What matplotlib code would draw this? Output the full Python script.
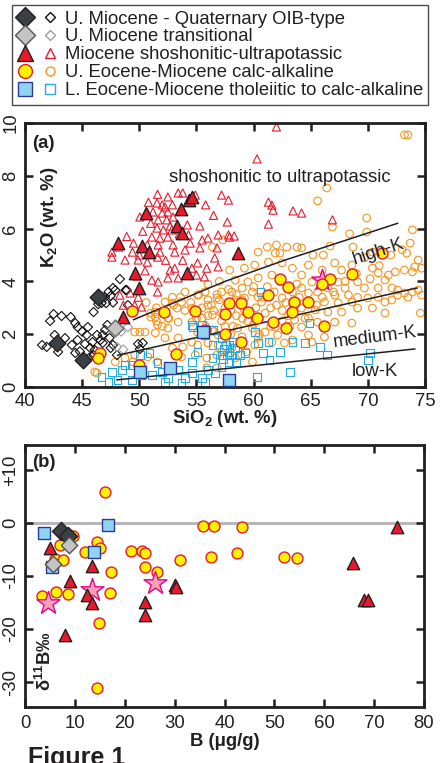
import matplotlib
matplotlib.use('Agg')
import matplotlib.pyplot as plt
from matplotlib.lines import Line2D
from matplotlib.legend_handler import HandlerTuple

plt.rcParams['font.family'] = ['Liberation Sans', 'DejaVu Sans']
plt.rcParams['mathtext.fontset'] = 'custom'
plt.rcParams['mathtext.rm'] = 'Liberation Sans'
plt.rcParams['mathtext.bf'] = 'Liberation Sans:bold'
plt.rcParams['mathtext.it'] = 'Liberation Sans:italic'
plt.rcParams['mathtext.default'] = 'bf'

INK = '#231f20'
FS = 13.3

# ---------------- Panel (a) data: SiO2 vs K2O ----------------
# open symbols (literature data)
oib_open_si = [48.3, 47.3, 47.5, 47.7, 47.0, 48.8, 47.1, 46.0, 46.4, 42.5, 43.2, 44.0, 42.2, 44.4, 44.6,
               45.5, 47.2, 45.4, 46.3, 46.8, 42.6, 41.5, 41.9, 42.9, 44.1, 44.4, 44.6, 45.25, 45.7, 45.9,
               46.1, 46.6, 46.8, 47.0, 47.4, 47.7, 48.05, 49.9, 50.3, 50.05, 47.5, 47.9, 47.7, 46.7, 48.9,
               49.0, 43.5, 45.0, 46.0, 45.6, 44.8]
oib_open_k = [4.09, 3.6, 3.45, 3.75, 3.4, 3.67, 3.18, 2.84, 3.14, 2.76, 2.69, 2.65, 2.5, 2.42, 2.27,
              2.27, 2.35, 1.97, 1.97, 1.97, 1.97, 1.59, 1.52, 1.33, 1.59, 1.29, 1.78, 1.63, 1.48, 1.7,
              1.4, 1.78, 1.67, 2.16, 1.86, 1.59, 1.21, 1.63, 1.67, 1.44, 1.48, 3.67, 3.2, 3.18, 3.67,
              3.1, 1.85, 2.1, 1.2, 1.1, 1.35]

trans_open_si = [48.05, 49.0, 48.6, 48.4]
trans_open_k = [1.52, 2.27, 1.42, 2.1]

shos_open_si = [51.6, 52.5, 53.4, 53.8, 54.9, 51.55, 52.25, 52.9, 51.2, 52.0, 52.5, 50.05, 51.65, 52.4,
                52.95, 54.2, 55.3, 51.55, 52.1, 52.85, 51.1, 51.8, 52.5, 54.3, 49.5, 50.7, 51.65, 52.95,
                54.45, 55.5, 56.0, 47.6, 49.4, 51.8, 53.1, 54.0, 55.3, 56.9, 56.8, 57.2,
                62.0, 60.3, 57.8, 61.3, 61.6, 61.7, 63.45, 64.2, 57.7, 61.3, 66.9, 57.8, 57.9, 58.3,
                47.6, 48.75, 49.9, 50.7, 51.6, 52.7, 53.1, 54.6, 55.1, 55.9, 56.6, 51.1, 51.65, 52.5,
                53.4, 55.0, 55.7, 48.3, 49.2, 49.9, 51.6, 49.6, 50.2, 48.6, 56.9,
                52.0, 52.7, 51.0, 53.5, 50.3, 50.0, 52.3, 53.8, 50.5, 49.8, 56.5, 55.8, 50.8, 48.9, 48.2]
shos_open_k = [7.3, 7.2, 7.35, 7.35, 7.27, 6.97, 6.82, 6.9, 6.63, 6.59, 6.63, 6.44, 6.33, 6.33,
               6.44, 6.14, 6.1, 6.02, 5.95, 5.95, 5.68, 5.64, 5.68, 5.76, 5.45, 5.38, 5.38, 5.38,
               5.45, 5.57, 5.64, 5.11, 5.11, 5.11, 5.11, 5.19, 5.27, 5.76, 5.27, 7.27,
               9.85, 8.64, 7.08, 7.0, 6.89, 6.7, 6.67, 6.59, 6.25, 6.17, 6.33, 5.76, 5.68, 5.72,
               4.92, 4.81, 4.81, 4.73, 4.92, 4.43, 4.5, 4.5, 4.7, 4.5, 4.89, 4.05, 3.98, 4.13,
               4.13, 4.24, 4.17, 3.48, 3.56, 3.4, 3.6, 3.1, 3.03, 3.1, 4.55,
               6.9, 6.1, 6.2, 5.8, 5.9, 5.0, 4.8, 4.8, 4.4, 4.2, 6.5, 6.9, 7.0, 5.7, 5.3]

calc_open_si = [73.2, 73.5, 66.4, 65.6, 69.9, 66.9, 73.9, 68.4, 69.9, 61.2, 62.0, 62.9, 63.8, 66.7, 68.7,
                73.7, 73.4, 70.4, 65.2, 66.1, 61.9, 62.3, 64.2, 60.4, 56.4, 57.3,
                57.9, 59.2, 60.1, 61.3, 62.5, 63.4, 64.8, 66.0, 67.1, 67.7, 68.6, 69.7, 70.4, 70.9, 71.5,
                71.8, 72.4, 73.2, 73.9, 74.4, 74.1, 74.7, 58.4, 59.5, 60.4, 61.6, 64.2, 65.1, 67.4, 68.0,
                69.1, 69.7, 70.9, 72.1, 72.6, 73.2, 73.9, 74.4, 74.7, 73.5, 72.6, 58.1, 59.0, 59.9, 60.4,
                60.7, 59.2, 58.4, 62.5, 63.4, 64.2, 64.8, 65.6, 66.5, 67.1, 68.3, 69.1, 70.0, 70.9, 71.5,
                72.1, 68.6, 67.4, 66.2, 65.4, 64.2, 66.5, 67.7, 69.1, 70.4, 74.6, 71.5, 68.6, 67.1, 65.6,
                64.8, 63.6, 64.2, 64.8, 65.1, 66.2, 61.0, 61.9, 59.9, 60.4, 60.1, 61.6, 62.7, 63.4, 59.4,
                58.4, 59.9, 58.1, 62.1, 58.6,
                57.0, 57.5, 58.0, 58.5, 59.0, 59.5, 60.0, 60.5, 61.0, 61.5, 62.0, 62.5, 63.0, 56.5, 56.0,
                56.3, 57.2, 58.2, 59.2, 60.2, 60.8, 61.8, 62.8, 63.5, 64.0, 63.8, 62.3, 61.2, 60.0, 59.0,
                58.5, 57.8, 56.8, 56.0, 55.5, 55.0, 55.8, 56.5, 57.5, 58.0, 59.0, 60.5, 61.5, 62.5, 63.2,
                64.5, 65.5, 66.0, 67.0, 68.0, 69.0, 70.2, 71.0, 72.0, 73.0, 57.0, 56.0, 55.2, 54.5, 54.0,
                53.6, 53.0, 52.6, 52.0, 51.5, 51.0, 50.6,
                51.4, 52.25, 52.9, 53.7, 54.0, 55.1, 55.75, 56.0, 56.8, 57.2, 53.3, 54.6, 52.5, 53.4, 54.6,
                55.5, 56.4, 57.2, 55.1, 56.4, 56.9, 51.6, 52.5, 51.4, 49.6, 50.05, 50.5, 52.25, 53.4, 54.6,
                52.9, 53.8, 55.1, 56.0, 56.9, 48.75, 49.6, 50.75, 51.55, 53.7, 54.9, 55.9, 56.8, 57.2, 46.1,
                47.9, 49.45, 55.9, 56.8, 51.4, 52.9, 51.5, 51.0, 46.1, 46.3]
calc_open_k = [9.55, 9.55, 7.54, 7.05, 6.4, 6.06, 5.95, 5.8, 5.87, 5.3, 5.38, 5.3, 5.3, 5.34, 5.3,
               5.45, 5.07, 5.11, 5.0, 5.0, 5.07, 5.07, 5.27, 5.11, 5.3, 5.57,
               4.43, 4.5, 4.62, 4.73, 4.7, 4.5, 4.62, 4.43, 4.7, 4.43, 4.62, 4.89, 4.5, 4.32, 4.05,
               4.24, 4.36, 4.43, 4.36, 4.81, 4.55, 4.5, 4.05, 3.98, 4.13, 4.24, 4.24, 3.98, 3.98, 3.75,
               3.98, 3.75, 3.75, 3.75, 3.67, 3.56, 3.6, 3.67, 3.48, 3.4, 3.48, 3.6, 3.75, 3.6, 3.4,
               3.22, 3.37, 3.3, 3.37, 3.6, 3.75, 3.56, 3.6, 3.75, 3.48, 3.48, 3.4, 3.37, 3.4, 3.22,
               3.3, 3.22, 3.18, 3.22, 2.92, 2.99, 2.84, 2.84, 2.99, 2.99, 2.8, 2.8, 2.42, 2.46, 2.46,
               2.61, 2.54, 2.27, 1.97, 1.7, 1.89, 2.08, 2.27, 2.23, 1.89, 1.59, 1.7, 1.67, 1.78, 1.33,
               1.1, 0.95, 1.48, 1.97, 2.23,
               3.3, 3.0, 2.9, 2.7, 2.6, 2.5, 2.4, 2.6, 2.8, 3.0, 3.1, 2.9, 2.7, 2.9, 2.7,
               3.1, 2.5, 2.3, 2.9, 3.0, 3.4, 3.6, 3.2, 3.0, 3.4, 3.9, 4.0, 3.8, 3.8, 3.3,
               3.5, 3.7, 3.5, 3.3, 3.0, 2.6, 2.3, 2.1, 2.3, 2.0, 1.9, 2.0, 2.3, 2.5, 2.3,
               2.6, 3.1, 3.4, 3.6, 4.0, 4.3, 4.1, 4.6, 5.0, 5.2, 4.0, 3.9, 3.5, 3.2, 2.9,
               3.4, 3.1, 2.6, 2.3, 2.5, 2.8, 3.2,
               2.84, 3.22, 3.4, 3.22, 3.6, 3.48, 3.6, 3.1, 3.37, 3.6, 2.99, 2.99, 2.61, 2.46, 2.46,
               2.61, 2.73, 2.8, 2.08, 2.16, 1.97, 2.35, 2.23, 2.05, 2.08, 2.08, 2.08, 1.86, 1.86, 1.7,
               1.48, 1.52, 1.59, 1.67, 1.59, 1.1, 1.21, 1.14, 0.95, 1.14, 1.21, 1.1, 1.21, 1.33, 0.57,
               0.95, 0.95, 0.72, 0.72, 2.65, 3.18, 3.0, 2.65, 1.4, 0.53]

thol_open_si = [54.6, 55.75, 56.45, 56.4, 57.2, 50.05, 50.9, 51.6, 49.35, 48.5, 47.6, 46.7, 47.3, 48.1,
                49.35, 50.2, 51.1, 52.0, 52.5, 53.4, 54.0, 54.6, 55.5, 56.0, 56.6, 57.2, 57.2, 52.25,
                53.7, 55.75, 54.6, 56.4, 55.1, 48.75, 57.9, 57.9, 58.4, 58.8, 59.25, 57.7, 57.8, 58.5,
                60.4, 61.3, 60.8, 61.4, 62.3, 63.4, 64.5, 65.8, 66.4, 63.2, 60.3, 70.2, 70.0, 60.1,
                64.9, 60.6, 57.4, 57.6, 58.0, 57.3, 58.2, 54.7, 55.5]
thol_open_k = [2.35, 1.97, 2.16, 1.59, 1.86, 1.21, 1.29, 0.91, 0.83, 0.64, 0.57, 0.38, 0.19, 0.27,
               0.27, 0.45, 0.45, 0.57, 0.34, 0.64, 0.34, 0.53, 0.34, 0.64, 0.53, 0.76, 1.21, 0.19,
               0.15, 0.19, 0.95, 1.1, 1.33, 0.83, 1.59, 1.33, 1.48, 1.21, 1.29, 1.21, 0.95, 0.95,
               1.67, 1.7, 1.29, 1.02, 1.33, 1.7, 1.67, 1.52, 1.21, 0.57, 0.38, 1.29, 1.02, 2.08,
               2.42, 3.6, 1.45, 1.6, 1.2, 1.05, 1.7, 2.27, 2.35]

# filled symbols (this study)
oib_si = [46.4, 42.8, 45.1]
oib_k = [3.4, 1.67, 1.02]
trans_si = [47.9]
trans_k = [2.25]
shos_si = [54.35, 54.6, 53.65, 50.6, 53.3, 53.7, 48.1, 50.2, 50.85, 49.6, 50.0, 54.2, 48.6, 58.6]
shos_k = [7.1, 7.2, 6.75, 6.6, 6.1, 5.85, 5.45, 5.35, 5.1, 4.3, 3.75, 4.3, 2.65, 5.07]
calc_si = [49.35, 52.15, 54.9, 46.6, 46.4, 53.2, 50.0, 55.75, 62.3, 63.0, 61.3, 57.85, 58.9, 57.5,
           59.5, 60.3, 63.55, 64.8, 63.35, 61.7, 62.85, 57.5, 58.9, 66.15, 68.6, 71.2, 66.7, 66.0]
calc_k = [2.88, 2.85, 2.88, 1.29, 1.1, 1.25, 0.83, 2.16, 4.1, 3.8, 3.5, 3.18, 3.18, 2.76,
          2.84, 2.61, 3.22, 3.22, 2.84, 2.46, 2.24, 2.0, 1.7, 2.31, 4.28, 5.07, 4.09, 3.9]
thol_si = [55.55, 50.05, 52.7, 57.85]
thol_k = [2.08, 0.57, 0.72, 0.27]
star_si = [66.0]
star_k = [4.05]

# series boundary lines
lowK_si, lowK_k = [48.05, 74.1], [0.27, 1.44]
medK_si, medK_k = [48.1, 74.3], [1.2, 3.75]
highK_si, highK_k = [49.5, 57.5, 62.7, 72.6], [2.55, 4.0, 4.8, 6.2]

# ---------------- Panel (b) data: B vs d11B ----------------
b_calc_B = [16, 9.7, 7, 14.5, 15, 12, 6, 7.6, 17.3, 21.3, 23.5, 24, 24, 26.4, 31, 35.6, 37.8, 43.6,
            37.2, 42.5, 52, 54.5, 3.4, 6.3, 8.7, 17, 14.9, 14.5]
b_calc_d = [5.8, -2.5, -4.2, -3.6, -4.7, -5.5, -6.8, -7.0, -9.2, -5.3, -5.2, -5.6, -8.3, -9.2, -7.0,
            -0.6, -0.6, -0.7, -6.4, -5.7, -6.4, -6.6, -13.8, -13.0, -13.4, -13.2, -18.9, -31.1]
b_shos_B = [5, 13.4, 9, 30, 30.3, 12.5, 13.5, 24, 24, 8.1, 68, 68.7, 65.8, 74.6]
b_shos_d = [-4.7, -8.1, -10.9, -11.7, -12.0, -13.6, -15.1, -14.9, -17.4, -21.1, -14.5, -14.5, -7.6, -0.8]
b_thol_B = [3.8, 16.6, 13.9, 5.4]
b_thol_d = [-1.9, -0.4, -5.5, -8.3]
b_oib_B = [7.3, 8.7]
b_oib_d = [-1.5, -2.5]
b_trans_B = [8.9, 5.7]
b_trans_d = [-4.2, -7.8]
b_star_B = [26, 13.4, 4.7]
b_star_d = [-11.3, -12.6, -15.1]

# colours
C_OIB = '#3b4044'
C_TRANS = '#c4c4c4'
C_RED = '#e8192c'
C_YEL = '#fff200'
C_BLUE = '#8fd3f5'
C_BLUE_E = '#2b3990'
C_ORANGE = '#f7941d'
C_LBLUE = '#27aae1'
C_STAR = '#f5a3b5'
C_STAR_E = '#ec008c'

fig = plt.figure(figsize=(4.41, 7.63), dpi=100)
axA = fig.add_axes([25/441, 1-387/763, 400/441, 264/763])
axB = fig.add_axes([25/441, 1-707/763, 399/441, 262/763])


def style(ax):
    for s in ax.spines.values():
        s.set_linewidth(2.0)
        s.set_color(INK)
    ax.tick_params(direction='in', length=6, width=1.8, top=True, right=True,
                   labelsize=FS, color=INK, labelcolor=INK)
    ax.tick_params(axis='y', labelrotation=90, pad=4)
    for lab in ax.get_yticklabels():
        lab.set_va('center')


# ---- panel a ----
axA.scatter(calc_open_si, calc_open_k, s=30, facecolors='none', edgecolors=C_ORANGE, linewidths=0.8, zorder=2)
axA.scatter(thol_open_si, thol_open_k, s=30, marker='s', facecolors='none', edgecolors=C_LBLUE, linewidths=0.8, zorder=2.1)
axA.scatter(oib_open_si, oib_open_k, s=22, marker='D', facecolors='none', edgecolors='#111111', linewidths=0.8, zorder=2.2)
axA.scatter(trans_open_si, trans_open_k, s=22, marker='D', facecolors='none', edgecolors='#a0a0a0', linewidths=0.8, zorder=2.2)
axA.scatter(shos_open_si, shos_open_k, s=34, marker='^', facecolors='none', edgecolors=C_RED, linewidths=0.8, zorder=2.3)

for xs, ys in [(lowK_si, lowK_k), (medK_si, medK_k), (highK_si, highK_k)]:
    axA.plot(xs, ys, color=INK, lw=1.1, zorder=3)

axA.scatter(star_si, star_k, s=260, marker='*', facecolors=C_STAR, edgecolors=C_STAR_E, linewidths=1.0, zorder=4)
axA.scatter(calc_si, calc_k, s=62, facecolors=C_YEL, edgecolors=C_RED, linewidths=1.0, zorder=5)
axA.scatter(thol_si, thol_k, s=75, marker='s', facecolors=C_BLUE, edgecolors=C_BLUE_E, linewidths=1.0, zorder=5)
axA.scatter(shos_si, shos_k, s=80, marker='^', facecolors=C_RED, edgecolors=INK, linewidths=1.0, zorder=5)
axA.scatter(oib_si, oib_k, s=72, marker='D', facecolors=C_OIB, edgecolors=INK, linewidths=1.0, zorder=5)
axA.scatter(trans_si, trans_k, s=72, marker='D', facecolors=C_TRANS, edgecolors='#666666', linewidths=1.0, zorder=5)

axA.set_xlim(40, 75)
axA.set_ylim(0, 10)
axA.set_xticks([40, 45, 50, 55, 60, 65, 70, 75])
axA.set_yticks([0, 2, 4, 6, 8, 10])
style(axA)
axA.tick_params(axis='x', pad=4)

axA.text(62.3, 7.77, 'shoshonitic to ultrapotassic', ha='center', va='baseline', fontsize=FS, color=INK)
axA.text(70.9, 5.11, 'high-K', ha='center', va='center', rotation=18, fontsize=FS, color=INK, zorder=6)
axA.text(70.6, 1.89, 'medium-K', ha='center', va='center', rotation=7, fontsize=FS, color=INK)
axA.text(70.6, 0.6, 'low-K', ha='center', va='center', fontsize=FS, color=INK)
axA.text(0.018, 0.924, '(a)', transform=axA.transAxes, ha='left', va='center', fontsize=FS,
         fontweight='bold', color=INK)
axA.text(0.0625, 0.644, r'K$_\mathbf{2}$O (wt. %)', transform=axA.transAxes, rotation=90, ha='center',
         va='center', fontsize=FS, fontweight='bold', color=INK)
axA.text(0.5, -0.121, r'SiO$_\mathbf{2}$ (wt. %)', transform=axA.transAxes, ha='center', va='center',
         fontsize=FS, fontweight='bold', color=INK)

# ---- panel b ----
axB.axhline(0, color='#b7b7b7', lw=2.2, zorder=1)
axB.scatter(b_calc_B, b_calc_d, s=62, facecolors=C_YEL, edgecolors=C_RED, linewidths=1.0, zorder=3)
axB.scatter(b_star_B, b_star_d, s=300, marker='*', facecolors=C_STAR, edgecolors=C_STAR_E, linewidths=1.0, zorder=4)
axB.scatter(b_thol_B, b_thol_d, s=75, marker='s', facecolors=C_BLUE, edgecolors=C_BLUE_E, linewidths=1.0, zorder=4)
axB.scatter(b_shos_B, b_shos_d, s=80, marker='^', facecolors=C_RED, edgecolors=INK, linewidths=1.0, zorder=5)
axB.scatter(b_oib_B, b_oib_d, s=85, marker='D', facecolors=C_OIB, edgecolors=INK, linewidths=1.0, zorder=5)
axB.scatter(b_trans_B, b_trans_d, s=70, marker='D', facecolors=C_TRANS, edgecolors='#555555', linewidths=1.0, zorder=5)

axB.set_xlim(0, 80)
axB.set_ylim(-34.7, 14.7)
axB.set_xticks(range(0, 81, 10))
axB.set_yticks([-30, -20, -10, 0, 10])
axB.set_yticklabels(['-30', '-20', '-10', '0', '+10'])
style(axB)
axB.tick_params(axis='x', pad=6)
axB.text(0.018, 0.935, '(b)', transform=axB.transAxes, ha='left', va='center', fontsize=FS,
         fontweight='bold', color=INK)
axB.text(0.05, 0.175, r'δ$^\mathbf{11}$B‰', transform=axB.transAxes, rotation=90, ha='center',
         va='center', fontsize=FS, fontweight='bold', color=INK)
axB.text(0.5, -0.132, 'B (μg/g)', transform=axB.transAxes, ha='center', va='center',
         fontsize=FS, fontweight='bold', color=INK)

fig.text(28/441, 1-746/763, 'Figure 1', ha='left', va='top', fontsize=18, fontweight='bold', color=INK)

# ---- legend ----
def mk(marker, ms, fc, ec):
    return Line2D([], [], ls='none', marker=marker, markersize=ms, markerfacecolor=fc,
                  markeredgecolor=ec, markeredgewidth=1.0)

handles = [
    (mk('D', 10, C_OIB, INK), mk('D', 5.5, 'none', '#111111')),
    (mk('D', 10, C_TRANS, '#555555'), mk('D', 5.5, 'none', '#a0a0a0')),
    (mk('^', 11, C_RED, INK), mk('^', 6.5, 'none', C_RED)),
    (mk('o', 10, C_YEL, C_RED), mk('o', 6.5, 'none', C_ORANGE)),
    (mk('s', 10, C_BLUE, C_BLUE_E), mk('s', 6.5, 'none', C_LBLUE)),
]
labels = ['U. Miocene - Quaternary OIB-type', 'U. Miocene transitional',
          'Miocene shoshonitic-ultrapotassic', 'U. Eocene-Miocene calc-alkaline',
          'L. Eocene-Miocene tholeiitic to calc-alkaline']
leg = fig.legend(handles, labels, handler_map={tuple: HandlerTuple(ndivide=None, pad=0.5)},
                 loc='upper left', bbox_to_anchor=(12/441, 1-5/763), frameon=True, fancybox=False,
                 edgecolor=INK, fontsize=FS, handlelength=2.2, handletextpad=0.35,
                 labelspacing=0.05, borderpad=0.3, borderaxespad=0)
leg.get_frame().set_linewidth(1.0)
for t in leg.get_texts():
    t.set_color(INK)

fig.savefig('out.png', dpi=100)
